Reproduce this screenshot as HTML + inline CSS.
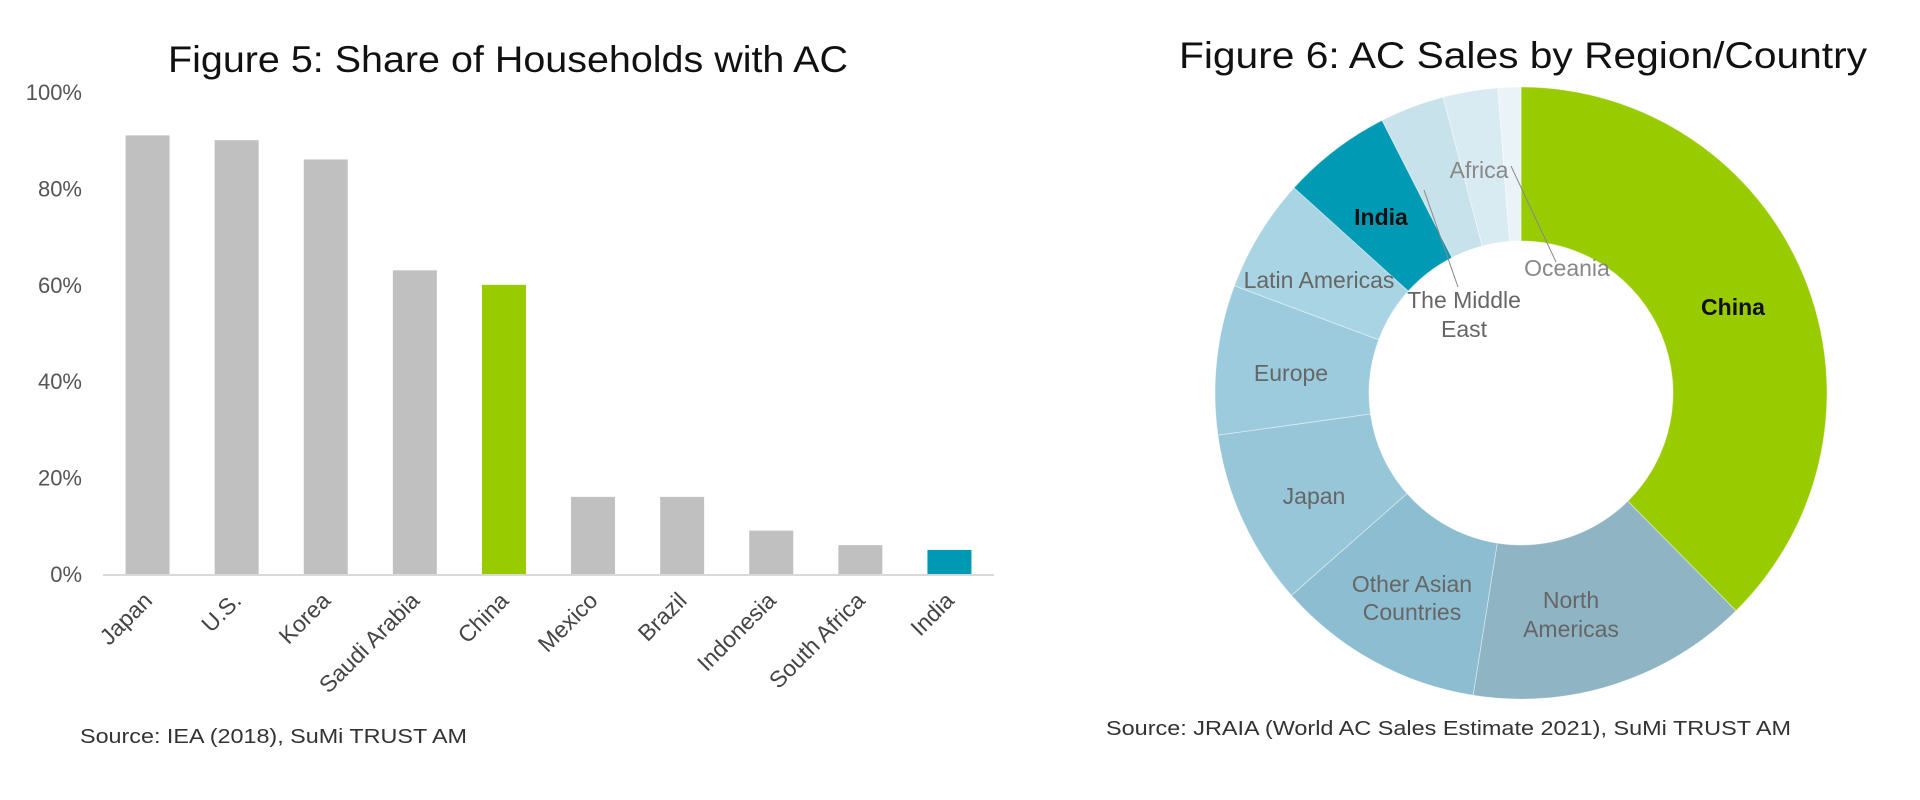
<!DOCTYPE html>
<html><head><meta charset="utf-8">
<style>
html,body{margin:0;padding:0;background:#fff;}
svg{display:block;font-family:"Liberation Sans","DejaVu Sans",sans-serif;}
</style></head>
<body>
<svg id="chart" width="1920" height="800" viewBox="0 0 1920 800">
  <text x="168" y="72" textLength="680" lengthAdjust="spacingAndGlyphs" font-size="37" fill="#111">Figure 5: Share of Households with AC</text>
  <g id="bars"></g>
  <text x="80" y="743" textLength="387" lengthAdjust="spacingAndGlyphs" font-size="20" fill="#333">Source: IEA (2018), SuMi TRUST AM</text>

  <text x="1179" y="68" textLength="688" lengthAdjust="spacingAndGlyphs" font-size="37" fill="#111">Figure 6: AC Sales by Region/Country</text>
  <g id="donut"></g>
  <text x="1106" y="735" textLength="685" lengthAdjust="spacingAndGlyphs" font-size="20" fill="#333">Source: JRAIA (World AC Sales Estimate 2021), SuMi TRUST AM</text>
</svg>
<script>
const categories = ["Japan","U.S.","Korea","Saudi Arabia","China","Mexico","Brazil","Indonesia","South Africa","India"];
const shareValues = [91,90,86,63,60,16,16,9,6,5];
const yTicks = [0,20,40,60,80,100];
const yTickLabels = ["0%","20%","40%","60%","80%","100%"];

const regions = ["China","North Americas","Other Asian Countries","Japan","Europe","Latin Americas","India","The Middle East","Africa","Oceania"];
const regionShares = [37.6,14.9,11.0,9.3,7.9,6.0,5.8,3.4,2.9,1.2];

const NS = "http://www.w3.org/2000/svg";
function mk(tag, attrs, parent){ const e=document.createElementNS(NS,tag); for(const k in attrs) e.setAttribute(k,attrs[k]); parent.appendChild(e); return e; }

const bars = document.getElementById('bars');
const y0 = 574, yTop = 92, x0 = 103, x1 = 994;
const yScale = v => y0 - (v/100)*(y0-yTop);
const step = (x1-x0)/categories.length;
const xCenter = i => x0 + step*(i+0.5);
yTicks.forEach((t,i)=>{
  const tl = mk('text',{x:82,y:yScale(t)+8,'text-anchor':'end','font-size':22,fill:'#555'},bars);
  tl.textContent = yTickLabels[i];
  
  
});
const axis = mk('line',{x1:x0,x2:x1,y1:y0+1,y2:y0+1,stroke:'#d9d9d9','stroke-width':2},bars);


categories.forEach((c,i)=>{
  const bw = 44;
  const col = c==="China" ? "#99cc00" : (c==="India" ? "#0099b4" : "#c0c0c0");
  const r = mk('rect',{x:xCenter(i)-bw/2,y:yScale(shareValues[i]),width:bw,height:y0-yScale(shareValues[i]),fill:col},bars);
  
  
  const lx = xCenter(i)+6, ly = 602;
  const t = mk('text',{x:lx,y:ly,'text-anchor':'end','font-size':23,fill:'#444',transform:`rotate(-45 ${lx} ${ly})`},bars);
  t.textContent = c;
  
  
});

const donut = document.getElementById('donut');
const cx=1521, cy=393, R=306, r=152;
const colors = {"China":"#99cc00","North Americas":"#8fb4c4","Other Asian Countries":"#8dbdd0","Japan":"#96c6d8","Europe":"#9ccbdd","Latin Americas":"#a9d4e3","India":"#009ab5","The Middle East":"#c8e2eb","Africa":"#d9ebf2","Oceania":"#eaf4f8"};
const total = regionShares.reduce((a,b)=>a+b,0);
const pt = (rad,a)=>[cx+rad*Math.sin(a), cy-rad*Math.cos(a)];
let acc = 0;
regions.forEach((name,i)=>{
  const a0 = acc/total*2*Math.PI; acc += regionShares[i]; const a1 = acc/total*2*Math.PI;
  const large = (a1-a0)>Math.PI?1:0;
  const [ax,ay]=pt(R,a0),[bx,by]=pt(R,a1),[cx2,cy2]=pt(r,a1),[dx,dy]=pt(r,a0);
  const p = mk('path',{d:`M${ax},${ay} A${R},${R} 0 ${large} 1 ${bx},${by} L${cx2},${cy2} A${r},${r} 0 ${large} 0 ${dx},${dy} Z`,fill:colors[name],stroke:'#ffffff','stroke-width':0.8,'stroke-opacity':0.5},donut);
  
  
});
const l1 = mk('line',{x1:1424,y1:190,x2:1458,y2:287,stroke:'#888','stroke-width':1},donut);


const l2 = mk('line',{x1:1511,y1:166,x2:1556,y2:262,stroke:'#888','stroke-width':1},donut);


const labels = [
  ["China",1733,315,true,"#111"],["North",1571,608,false,"#666"],["Americas",1571,637,false,"#666"],
  ["Other Asian",1412,592,false,"#666"],["Countries",1412,620,false,"#666"],["Japan",1314,504,false,"#666"],
  ["Europe",1291,381,false,"#666"],["Latin Americas",1319,288,false,"#666"],["India",1381,225,true,"#111"],
  ["The Middle",1464,308,false,"#666"],["East",1464,337,false,"#666"],["Africa",1479,178,false,"#888"],["Oceania",1567,276,false,"#888"]
];
labels.forEach(([txt,x,y,bold,col])=>{
  const t = mk('text',{x:x,y:y,'text-anchor':'middle','font-size':23,fill:col,'font-weight':bold?'bold':'normal'},donut);
  t.textContent = txt;
  
  
});
</script>
</body></html>
